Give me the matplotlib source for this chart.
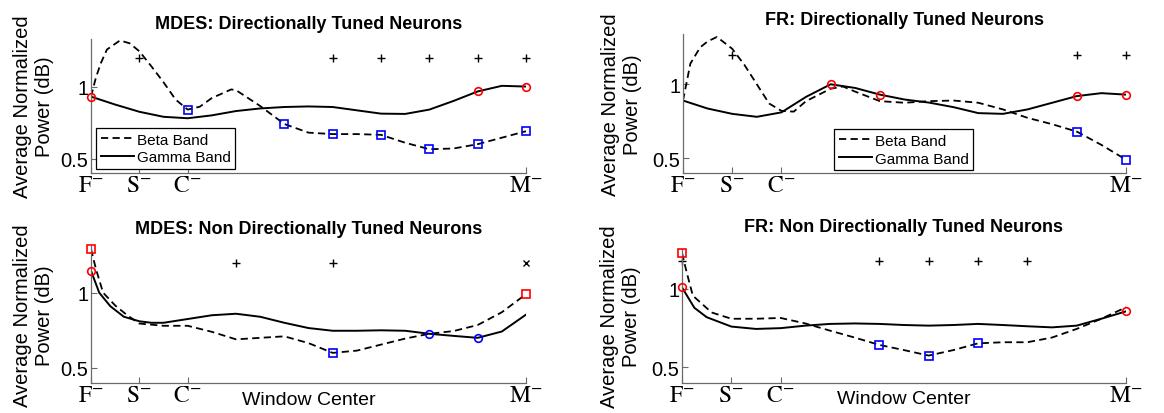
import matplotlib.pyplot as plt
import numpy as np

plt.rcParams['font.family'] = ['Liberation Sans', 'DejaVu Sans']
plt.rcParams['mathtext.fontset'] = 'stix'

# x positions: window centers, F- = 0 ... M- = 9
tick_pos = [0, 1, 2, 9]
tick_lab = [r'$\mathrm{F}^{-}$', r'$\mathrm{S}^{-}$', r'$\mathrm{C}^{-}$', r'$\mathrm{M}^{-}$']
half = [0, 0.5, 1, 1.5, 2, 2.5, 3, 3.5, 4, 4.5, 5, 5.5, 6, 6.5, 7, 7.5, 8, 8.5, 9]

# MDES: directionally tuned
tl_beta_x = [0, 0.1, 0.2, 0.33, 0.6, 0.8, 1, 1.25, 1.5, 1.75, 2, 2.25, 2.5, 2.9, 3, 3.5, 4,
             4.5, 5, 5.5, 6, 6.5, 7, 7.5, 8, 8.5, 9]
tl_beta_y = [0.93, 1.06, 1.16, 1.257, 1.32, 1.30, 1.245, 1.14, 1.03, 0.91, 0.84, 0.86, 0.92, 0.98,
             0.975, 0.865, 0.74, 0.68, 0.67, 0.67, 0.665, 0.61, 0.565, 0.57, 0.60, 0.645, 0.69]
tl_gamma_x = half
tl_gamma_y = [0.93, 0.875, 0.825, 0.79, 0.78, 0.80, 0.83, 0.848, 0.858, 0.862, 0.858, 0.835,
              0.812, 0.81, 0.84, 0.90, 0.966, 1.005, 1.0]

# FR: directionally tuned
tr_beta_x = [0, 0.15, 0.35, 0.5, 0.69, 1, 1.25, 1.5, 1.75, 2, 2.25, 2.5, 3, 3.25, 3.5, 4, 4.5,
             5, 5.5, 6, 6.5, 7, 7.5, 8, 8.5, 9]
tr_beta_y = [0.89, 1.14, 1.25, 1.29, 1.32, 1.24, 1.13, 1.0, 0.87, 0.82, 0.815, 0.886, 0.97,
             0.985, 0.95, 0.886, 0.875, 0.886, 0.89, 0.875, 0.83, 0.773, 0.73, 0.68, 0.59, 0.49]
tr_gamma_x = half
tr_gamma_y = [0.89, 0.836, 0.80, 0.78, 0.81, 0.915, 1.0, 0.975, 0.93, 0.897, 0.876, 0.845,
              0.805, 0.80, 0.83, 0.875, 0.92, 0.94, 0.93]

# MDES: non directionally tuned
bl_beta_x = [0, 0.1, 0.25, 0.5, 0.75, 1, 1.5, 2, 2.5, 3, 3.5, 4, 4.5, 5, 5.5, 6, 6.5, 7, 7.5,
             8, 8.5, 9]
bl_beta_y = [1.29, 1.16, 1.0, 0.915, 0.85, 0.795, 0.78, 0.78, 0.74, 0.69, 0.70, 0.71, 0.665,
             0.60, 0.615, 0.655, 0.695, 0.727, 0.745, 0.785, 0.87, 0.99]
bl_gamma_x = [0, 0.17, 0.4, 0.68, 1, 1.25, 1.5, 2, 2.5, 3, 3.5, 4, 4.5, 5, 5.5, 6, 6.5, 7, 7.5,
              8, 8.5, 9]
bl_gamma_y = [1.146, 1.0, 0.91, 0.84, 0.81, 0.80, 0.80, 0.825, 0.85, 0.86, 0.84, 0.80, 0.765,
              0.747, 0.747, 0.75, 0.747, 0.727, 0.713, 0.70, 0.742, 0.854]

# FR: non directionally tuned
br_beta_x = [0, 0.1, 0.22, 0.6, 1, 1.5, 2, 2.5, 3, 3.5, 4, 4.5, 5, 5.5, 6, 6.5, 7, 7.5, 8, 8.5, 9]
br_beta_y = [1.23, 1.10, 0.957, 0.85, 0.81, 0.81, 0.815, 0.78, 0.734, 0.69, 0.643, 0.61, 0.575,
             0.61, 0.653, 0.66, 0.66, 0.69, 0.745, 0.81, 0.883]
br_gamma_x = [0, 0.25, 0.5, 1, 1.5, 2, 2.5, 3, 3.5, 4, 4.5, 5, 5.5, 6, 6.5, 7, 7.5, 8, 8.5, 9]
br_gamma_y = [1.01, 0.88, 0.82, 0.76, 0.745, 0.75, 0.766, 0.777, 0.78, 0.777, 0.77, 0.766,
              0.77, 0.777, 0.77, 0.762, 0.755, 0.766, 0.81, 0.857]

panels = [
    dict(title='MDES: Directionally Tuned Neurons', rect=[91, 526, 40, 174], ylim=(0.4, 1.33),
         beta=(tl_beta_x, tl_beta_y), gamma=(tl_gamma_x, tl_gamma_y),
         beta_red=[], beta_blue=[2, 4, 5, 6, 7, 8, 9], gamma_red=[0, 8, 9], gamma_blue=[],
         plus=[1, 5, 6, 7, 8, 9], cross=[], plus_y=1.2, legend=(0.012, 0.03), pad=8),
    dict(title='FR: Directionally Tuned Neurons', rect=[683, 1126, 35, 174], ylim=(0.4, 1.34),
         beta=(tr_beta_x, tr_beta_y), gamma=(tr_gamma_x, tr_gamma_y),
         beta_red=[], beta_blue=[8, 9], gamma_red=[3, 4, 8, 9], gamma_blue=[],
         plus=[1, 8, 9], cross=[], plus_y=1.2, legend=(0.341, 0.02), pad=7),
    dict(title='MDES: Non Directionally Tuned Neurons', rect=[91, 526, 247, 384], ylim=(0.4, 1.31),
         beta=(bl_beta_x, bl_beta_y), gamma=(bl_gamma_x, bl_gamma_y),
         beta_red=[0, 9], beta_blue=[5], gamma_red=[0], gamma_blue=[7, 8],
         plus=[3, 5], cross=[9], plus_y=1.2, legend=None, pad=9),
    dict(title='FR: Non Directionally Tuned Neurons', rect=[682, 1126, 250, 384], ylim=(0.4, 1.255),
         beta=(br_beta_x, br_beta_y), gamma=(br_gamma_x, br_gamma_y),
         beta_red=[0], beta_blue=[4, 5, 6], gamma_red=[0, 9], gamma_blue=[],
         plus=[0, 4, 5, 6, 7], cross=[], plus_y=1.18, legend=None, pad=13),
]

W, H = 1164, 414
fig = plt.figure(figsize=(W / 100, H / 100), dpi=100)
axis_col = '#6a6a6a'

for i, p in enumerate(panels):
    x0, x1, ytop, ybot = p['rect']
    ax = fig.add_axes([x0 / W, 1 - ybot / H, (x1 - x0) / W, (ybot - ytop) / H])
    bx, by = p['beta']
    gx, gy = p['gamma']
    lb, = ax.plot(bx, by, color='black', lw=1.3, ls=(0, (4, 2.4)), label='Beta Band')
    lg, = ax.plot(gx, gy, color='black', lw=1.4, label='Gamma Band')

    def mk(idx, sx, sy, m, c):
        if idx:
            ax.plot(idx, np.interp(idx, sx, sy), ls='none', marker=m, ms=5.5, mfc='none',
                    mec=c, mew=1.2, zorder=5, clip_on=False)
    mk(p['beta_red'], bx, by, 's', 'red')
    mk(p['beta_blue'], bx, by, 's', 'blue')
    mk(p['gamma_red'], gx, gy, 'o', 'red')
    mk(p['gamma_blue'], gx, gy, 'o', 'blue')
    ax.plot(p['plus'], [p['plus_y']] * len(p['plus']), ls='none', marker='+', ms=6,
            color='black', mew=1.0, clip_on=False)
    if p['cross']:
        ax.plot(p['cross'], [p['plus_y']] * len(p['cross']), ls='none', marker='x', ms=4,
                color='black', mew=1.0, clip_on=False)

    ax.set_xlim(0, 9)
    ax.set_ylim(*p['ylim'])
    ax.set_xticks(tick_pos)
    ax.set_xticklabels(tick_lab, fontsize=17)
    ax.set_yticks([0.5, 1])
    ax.set_yticklabels(['0.5', '1'], fontsize=14.5)
    ax.tick_params(direction='in', length=4, width=0.8, color=axis_col)
    ax.tick_params(axis='x', pad=1)
    ax.tick_params(axis='y', pad=2)
    for s in ['top', 'right']:
        ax.spines[s].set_visible(False)
    for s in ['left', 'bottom']:
        ax.spines[s].set_color(axis_col)
        ax.spines[s].set_linewidth(0.9)

    ax.set_title(p['title'], fontsize=13, fontweight='bold', pad=p['pad'])
    ax.set_ylabel('Average Normalized\nPower (dB)', fontsize=14.5, linespacing=1.2)
    ax.yaxis.set_label_coords(-0.085 if i % 2 == 0 else -0.092, 0.5)
    if i >= 2:
        ax.set_xlabel('Window Center', fontsize=14)
        ax.xaxis.set_label_coords(0.5, -0.055)
    if p['legend']:
        leg = ax.legend(handles=[lb, lg], loc='lower left', bbox_to_anchor=p['legend'],
                        borderaxespad=0, fontsize=11, fancybox=False, framealpha=1,
                        edgecolor='black', handlelength=2.2, handletextpad=0.15,
                        borderpad=0.3, labelspacing=0.25)
        leg.get_frame().set_linewidth(0.9)

fig.savefig('out.png', dpi=100)
